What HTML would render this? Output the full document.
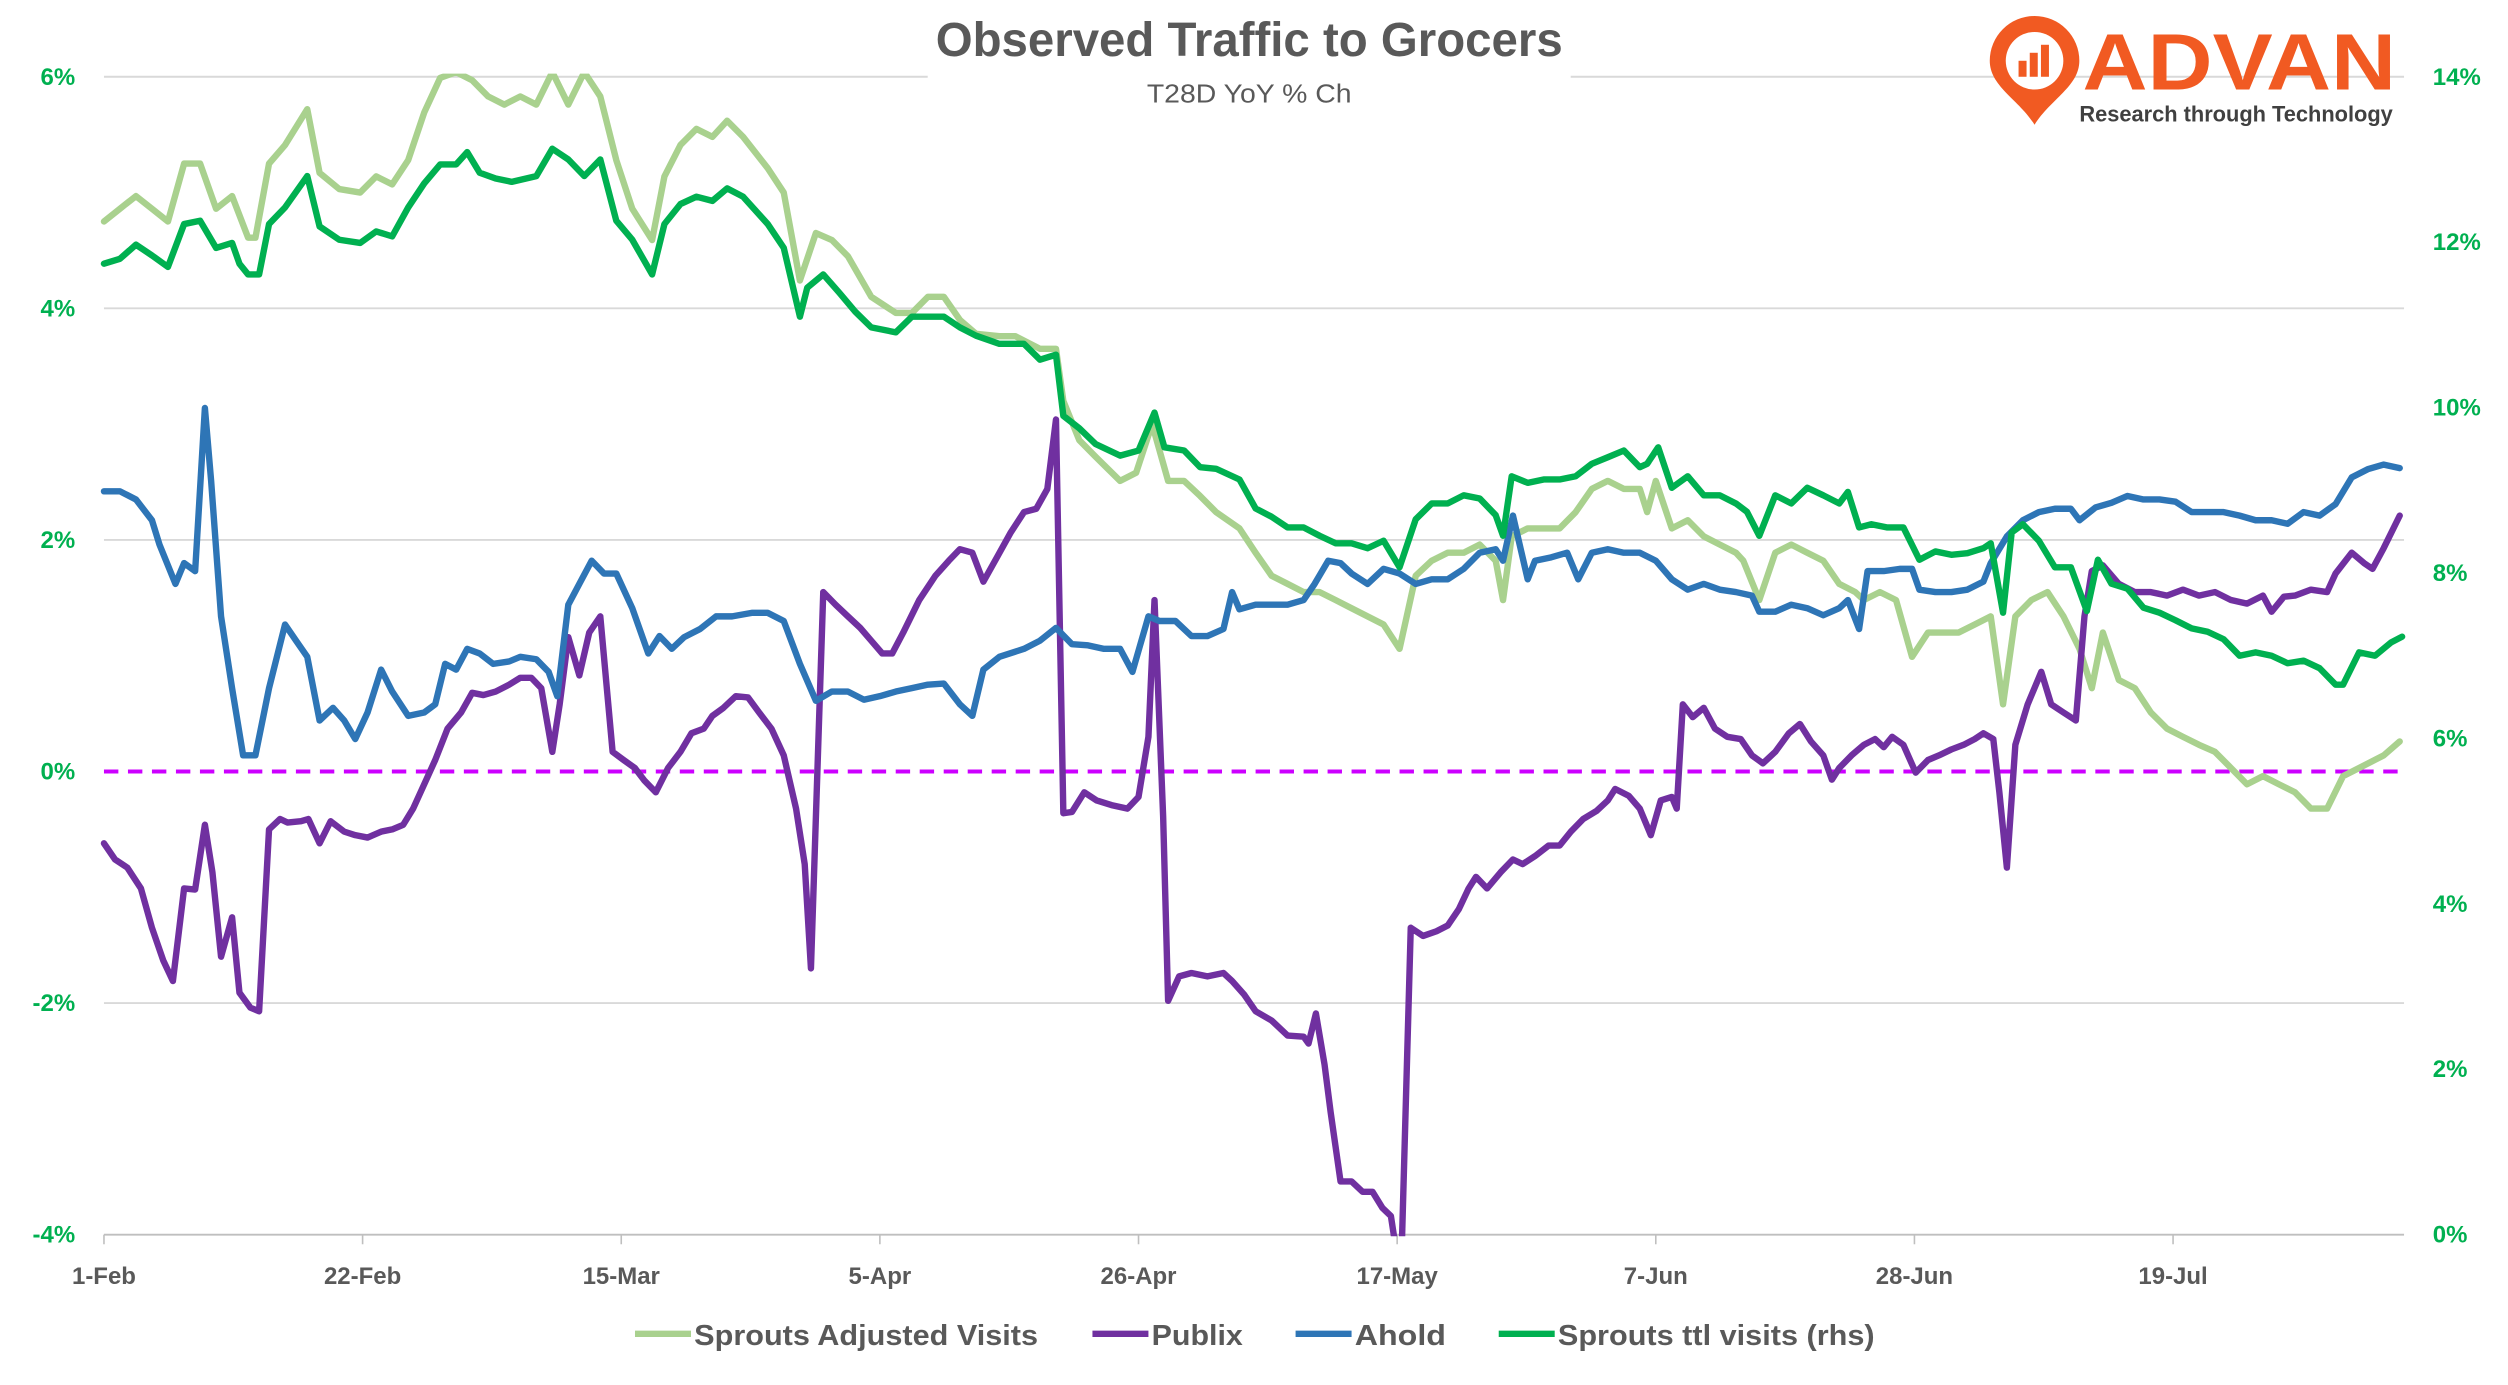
<!DOCTYPE html>
<html><head><meta charset="utf-8"><title>Observed Traffic to Grocers</title>
<style>html,body{margin:0;padding:0;background:#fff;}svg{display:block;font-family:"Liberation Sans",Arial,sans-serif;}</style>
</head><body>
<svg id="chart" width="2508" height="1385" viewBox="0 0 1568 866" preserveAspectRatio="none" xmlns="http://www.w3.org/2000/svg">
<defs><clipPath id="plotClip"><rect x="60" y="46" width="1450" height="727"/></clipPath></defs>
<rect x="0" y="0" width="1568" height="866" fill="#fff"/>
<g id="grid"></g>
<g id="axes"></g>
<g id="series" clip-path="url(#plotClip)"></g>
<rect x="580" y="8" width="402" height="66" fill="#fff"/>
<text x="781" y="35" text-anchor="middle" font-size="30" font-weight="bold" fill="#595959" textLength="392" lengthAdjust="spacingAndGlyphs">Observed Traffic to Grocers</text>
<text x="781" y="64" text-anchor="middle" font-size="16" fill="#595959" textLength="128" lengthAdjust="spacingAndGlyphs">T28D YoY % Ch</text>
<g>
<path d="M1272,78 C1262,62 1244,54 1244,38 A28,28 0 0 1 1300,38 C1300,54 1282,62 1272,78 Z" fill="#F15A22"/>
<circle cx="1272" cy="38" r="18" fill="#fff"/>
<rect x="1262" y="38" width="5" height="10" fill="#F15A22"/>
<rect x="1269" y="33" width="5" height="15" fill="#F15A22"/>
<rect x="1276" y="28" width="5" height="20" fill="#F15A22"/>
<text x="1400" y="56" text-anchor="middle" font-size="50" font-weight="bold" fill="#F15A22" textLength="196" lengthAdjust="spacingAndGlyphs">ADVAN</text>
<text x="1398" y="76" text-anchor="middle" font-size="14" font-weight="bold" fill="#404040" textLength="196" lengthAdjust="spacingAndGlyphs">Research through Technology</text>
</g>
<g id="legend"></g>
</svg>
<script>
const leftTicks=[6,4,2,0,-2,-4];
const rightTicks=[14,12,10,8,6,4,2,0];
const xTickDays=[0,21,42,63,84,105,126,147,168];
const xTickLabels=["1-Feb","22-Feb","15-Mar","5-Apr","26-Apr","17-May","7-Jun","28-Jun","19-Jul"];
const sproutsAdj=[[0,4.75],[1.3,4.86],[2.6,4.97],[3.9,4.86],[5.2,4.75],[6.5,5.25],[7.8,5.25],[9.1,4.86],[10.4,4.97],[11.7,4.61],[12.3,4.61],[13.4,5.25],[14.7,5.41],[16.5,5.72],[17.5,5.17],[19.1,5.03],[20.8,5.00],[22.1,5.14],[23.4,5.07],[24.7,5.28],[26,5.69],[27.3,5.99],[28.6,6.04],[29.9,5.97],[31.2,5.83],[32.5,5.76],[33.8,5.83],[35.1,5.76],[36.4,6.04],[37.7,5.76],[39,6.04],[40.3,5.83],[41.6,5.28],[42.9,4.86],[44.5,4.59],[45.5,5.14],[46.8,5.41],[48.1,5.55],[49.4,5.48],[50.6,5.62],[51.9,5.48],[53.9,5.21],[55.2,5.00],[56.5,4.24],[57.8,4.65],[59.1,4.59],[60.4,4.45],[62.3,4.10],[64.3,3.96],[65.6,3.96],[66.9,4.10],[68.2,4.10],[69.5,3.90],[70.8,3.78],[72.7,3.76],[74,3.76],[76,3.65],[77.3,3.65],[77.9,3.20],[79.2,2.86],[80.5,2.72],[82.5,2.51],[83.8,2.58],[85.1,3.00],[86.4,2.51],[87.7,2.51],[89,2.38],[90.3,2.24],[92.2,2.10],[93.5,1.89],[94.8,1.69],[96.1,1.62],[97.4,1.55],[98.7,1.55],[100,1.48],[101.3,1.41],[102.6,1.34],[103.9,1.27],[105.2,1.06],[106.5,1.69],[107.8,1.82],[109.1,1.89],[110.4,1.89],[111.7,1.96],[113,1.82],[113.6,1.48],[114.3,2.03],[115.6,2.10],[116.9,2.10],[118.2,2.10],[119.5,2.24],[120.8,2.44],[122.1,2.51],[123.4,2.44],[124.7,2.44],[125.3,2.24],[126,2.51],[127.3,2.10],[128.6,2.17],[129.9,2.03],[131.2,1.96],[132.5,1.89],[133.1,1.82],[134.4,1.48],[135.7,1.89],[137,1.96],[138.3,1.89],[139.6,1.82],[140.9,1.62],[142.2,1.55],[142.9,1.48],[144.2,1.55],[145.5,1.48],[146.8,0.99],[148.1,1.20],[149.4,1.20],[150.6,1.20],[151.9,1.27],[153.2,1.34],[154.2,0.58],[155.2,1.34],[156.5,1.48],[157.8,1.55],[159.1,1.34],[160.4,1.06],[161.4,0.72],[162.3,1.20],[163.6,0.79],[164.9,0.72],[166.2,0.51],[167.5,0.37],[168.8,0.30],[170.1,0.23],[171.4,0.17],[172.7,0.03],[174,-0.11],[175.3,-0.04],[176.6,-0.11],[177.9,-0.18],[179.2,-0.32],[180.5,-0.32],[181.8,-0.04],[183.1,0.03],[185.1,0.14],[186.4,0.26]];
const publix=[[0,-0.62],[0.9,-0.76],[1.9,-0.83],[3,-1.01],[3.9,-1.35],[4.8,-1.63],[5.6,-1.81],[6.5,-1.01],[7.4,-1.02],[8.2,-0.46],[8.8,-0.87],[9.5,-1.60],[10.4,-1.26],[11,-1.91],[11.9,-2.04],[12.6,-2.07],[13.4,-0.50],[14.3,-0.41],[14.9,-0.44],[16,-0.43],[16.6,-0.41],[17.5,-0.62],[18.4,-0.43],[19.5,-0.52],[20.4,-0.55],[21.4,-0.57],[22.5,-0.52],[23.4,-0.50],[24.3,-0.46],[25.1,-0.32],[26,-0.11],[26.9,0.10],[27.9,0.37],[29,0.51],[29.9,0.68],[30.8,0.66],[31.8,0.69],[32.9,0.75],[33.8,0.81],[34.7,0.81],[35.5,0.72],[36.4,0.17],[37,0.58],[37.7,1.16],[38.6,0.83],[39.4,1.20],[40.3,1.34],[41.3,0.17],[42.2,0.10],[43.1,0.03],[43.9,-0.08],[44.8,-0.18],[45.8,0.03],[46.8,0.17],[47.7,0.33],[48.7,0.37],[49.4,0.48],[50.3,0.55],[51.3,0.65],[52.3,0.64],[53.2,0.51],[54.2,0.37],[55.2,0.14],[56.2,-0.32],[56.9,-0.80],[57.4,-1.70],[58.4,1.55],[59.4,1.44],[60.4,1.34],[61.4,1.24],[62.3,1.13],[63.2,1.02],[64,1.02],[64.9,1.20],[66.2,1.48],[67.5,1.69],[68.6,1.82],[69.5,1.92],[70.5,1.89],[71.4,1.64],[72.5,1.85],[73.6,2.06],[74.7,2.24],[75.7,2.27],[76.6,2.44],[77.3,3.04],[77.9,-0.36],[78.6,-0.35],[79.6,-0.18],[80.6,-0.25],[81.8,-0.29],[83.1,-0.32],[84,-0.22],[84.8,0.30],[85.3,1.48],[86,-0.39],[86.4,-1.98],[87.3,-1.77],[88.3,-1.74],[89.6,-1.77],[90.9,-1.74],[91.6,-1.81],[92.6,-1.93],[93.5,-2.07],[94.8,-2.15],[96.1,-2.28],[97.4,-2.29],[97.8,-2.35],[98.4,-2.09],[99.1,-2.53],[99.6,-2.94],[100.4,-3.54],[101.3,-3.54],[102.2,-3.63],[103,-3.63],[103.8,-3.77],[104.5,-3.84],[105.3,-4.4],[106.1,-1.35],[107.1,-1.42],[108.2,-1.38],[109.1,-1.33],[110,-1.19],[110.8,-1.01],[111.4,-0.91],[112.3,-1.01],[113.4,-0.87],[114.4,-0.76],[115.2,-0.80],[116.2,-0.73],[117.3,-0.64],[118.2,-0.64],[119.1,-0.52],[120.1,-0.41],[121.2,-0.34],[122.1,-0.25],[122.7,-0.15],[123.8,-0.21],[124.7,-0.32],[125.6,-0.55],[126.4,-0.25],[127.3,-0.22],[127.7,-0.32],[128.2,0.58],[129,0.47],[129.9,0.55],[130.8,0.37],[131.8,0.30],[132.9,0.28],[133.8,0.14],[134.7,0.07],[135.7,0.17],[136.8,0.33],[137.7,0.41],[138.6,0.26],[139.6,0.14],[140.3,-0.07],[140.9,0.03],[141.9,0.14],[142.9,0.23],[143.8,0.28],[144.5,0.21],[145.2,0.30],[146.1,0.23],[147.1,-0.01],[148.1,0.10],[149,0.14],[150,0.19],[151,0.23],[151.9,0.28],[152.6,0.33],[153.4,0.28],[153.9,-0.18],[154.5,-0.83],[155.2,0.23],[156.2,0.58],[157.3,0.86],[158.1,0.58],[159.1,0.51],[160.1,0.44],[160.8,1.34],[161.4,1.73],[162.3,1.78],[163.6,1.62],[164.9,1.55],[166.2,1.55],[167.5,1.52],[168.8,1.57],[170.1,1.52],[171.4,1.55],[172.7,1.48],[174,1.45],[175.3,1.52],[176,1.38],[177,1.51],[177.9,1.52],[179.2,1.57],[180.5,1.55],[181.2,1.71],[182.5,1.89],[183.5,1.80],[184.2,1.75],[185.1,1.93],[186.4,2.21]];
const ahold=[[0,2.42],[1.3,2.42],[2.6,2.35],[3.9,2.17],[4.5,1.96],[5.8,1.62],[6.5,1.80],[7.4,1.73],[8.2,3.14],[8.7,2.51],[9.5,1.34],[10.4,0.72],[11.3,0.14],[12.3,0.14],[13.4,0.72],[14.7,1.27],[15.6,1.13],[16.5,0.99],[17.5,0.44],[18.6,0.55],[19.5,0.44],[20.4,0.28],[21.4,0.51],[22.5,0.88],[23.4,0.69],[24.7,0.48],[26,0.51],[26.9,0.58],[27.7,0.93],[28.6,0.88],[29.5,1.06],[30.5,1.02],[31.6,0.93],[32.9,0.95],[33.8,0.99],[35.1,0.97],[36.1,0.86],[36.8,0.65],[37.7,1.44],[38.6,1.62],[39.6,1.82],[40.6,1.71],[41.6,1.71],[42.9,1.41],[44.2,1.02],[45.1,1.17],[46.1,1.06],[47.1,1.16],[48.4,1.23],[49.7,1.34],[51,1.34],[52.6,1.37],[53.9,1.37],[55.2,1.30],[56.5,0.93],[57.8,0.61],[59.1,0.69],[60.4,0.69],[61.7,0.62],[63,0.65],[64.3,0.69],[65.6,0.72],[66.9,0.75],[68.2,0.76],[69.5,0.58],[70.5,0.48],[71.4,0.88],[72.7,0.99],[74.7,1.06],[76,1.13],[77.3,1.24],[78.6,1.10],[79.9,1.09],[81.2,1.06],[82.5,1.06],[83.5,0.86],[84.8,1.34],[85.7,1.30],[87,1.30],[88.3,1.17],[89.6,1.17],[90.9,1.23],[91.6,1.55],[92.2,1.40],[93.5,1.44],[94.8,1.44],[96.1,1.44],[97.4,1.48],[98.3,1.62],[99.4,1.82],[100.4,1.80],[101.3,1.71],[102.6,1.62],[103.9,1.75],[105.2,1.71],[106.5,1.62],[107.8,1.66],[109.1,1.66],[110.4,1.75],[111.7,1.89],[113,1.92],[113.6,1.82],[114.4,2.21],[115.6,1.66],[116.2,1.82],[117.5,1.85],[118.8,1.89],[119.7,1.66],[120.8,1.89],[122.1,1.92],[123.4,1.89],[124.7,1.89],[126,1.82],[127.3,1.66],[128.6,1.57],[129.9,1.62],[131.2,1.57],[132.5,1.55],[133.8,1.52],[134.4,1.38],[135.7,1.38],[137,1.44],[138.3,1.41],[139.6,1.35],[140.9,1.41],[141.6,1.48],[142.5,1.23],[143.2,1.73],[144.5,1.73],[145.8,1.75],[146.8,1.75],[147.4,1.57],[148.7,1.55],[150,1.55],[151.3,1.57],[152.6,1.64],[153.2,1.80],[154.5,2.03],[155.8,2.17],[157.1,2.24],[158.4,2.27],[159.7,2.27],[160.4,2.17],[161.7,2.28],[163,2.32],[164.3,2.38],[165.6,2.35],[166.9,2.35],[168.2,2.33],[169.5,2.24],[170.8,2.24],[172.1,2.24],[173.4,2.21],[174.7,2.17],[176,2.17],[177.3,2.14],[178.6,2.24],[179.9,2.21],[181.2,2.31],[182.5,2.54],[183.8,2.61],[185.1,2.65],[186.4,2.62]];
const sproutsTtlRhs=[[0,11.74],[1.3,11.80],[2.6,11.97],[3.9,11.84],[5.2,11.70],[6.5,12.22],[7.8,12.26],[9.1,11.93],[10.4,11.99],[11,11.74],[11.7,11.61],[12.6,11.61],[13.4,12.22],[14.7,12.42],[16.5,12.80],[17.5,12.19],[19.1,12.03],[20.8,11.99],[22.1,12.13],[23.4,12.07],[24.7,12.42],[26,12.71],[27.3,12.94],[28.6,12.94],[29.5,13.09],[30.5,12.84],[31.8,12.77],[33.1,12.73],[35.1,12.80],[36.4,13.13],[37.7,13.00],[39,12.80],[40.3,13.00],[41.6,12.26],[42.9,12.03],[44.5,11.61],[45.5,12.22],[46.8,12.46],[48.1,12.55],[49.4,12.50],[50.6,12.65],[51.9,12.55],[53.9,12.22],[55.2,11.93],[56.5,11.10],[57.1,11.45],[58.4,11.61],[59.7,11.39],[61,11.16],[62.3,10.97],[64.3,10.91],[65.6,11.10],[66.9,11.10],[68.2,11.10],[69.5,10.97],[70.8,10.87],[72.7,10.77],[74.7,10.77],[76,10.58],[77.3,10.64],[77.9,9.90],[79.2,9.75],[80.5,9.56],[82.5,9.42],[84,9.48],[85.3,9.94],[86.1,9.52],[87.7,9.48],[89,9.28],[90.3,9.26],[92.2,9.13],[93.5,8.78],[94.8,8.68],[96.1,8.55],[97.4,8.55],[98.7,8.45],[100,8.36],[101.3,8.36],[102.6,8.30],[103.9,8.39],[105.2,8.07],[106.5,8.65],[107.8,8.84],[109.1,8.84],[110.4,8.94],[111.7,8.90],[113,8.70],[113.6,8.45],[114.3,9.17],[115.6,9.09],[116.9,9.13],[118.2,9.13],[119.5,9.17],[120.8,9.32],[122.1,9.40],[123.4,9.48],[124.7,9.28],[125.3,9.32],[126.2,9.52],[127.3,9.03],[128.6,9.17],[129.9,8.94],[131.2,8.94],[132.5,8.84],[133.4,8.74],[134.4,8.45],[135.7,8.94],[137,8.84],[138.3,9.03],[139.6,8.94],[140.9,8.84],[141.6,8.98],[142.5,8.55],[143.5,8.59],[144.8,8.55],[146.1,8.55],[147.4,8.16],[148.7,8.26],[150,8.22],[151.3,8.24],[152.6,8.30],[153.2,8.36],[154.2,7.52],[154.9,8.49],[155.8,8.59],[157.1,8.39],[158.4,8.07],[159.7,8.07],[161,7.54],[161.9,8.16],[163,7.87],[164.3,7.81],[165.6,7.58],[166.9,7.52],[168.2,7.43],[169.5,7.33],[170.8,7.29],[172.1,7.20],[173.4,7.00],[174.7,7.04],[176,7.00],[177.3,6.91],[178.6,6.94],[179.9,6.85],[181.2,6.65],[181.8,6.65],[183.1,7.04],[184.4,7.00],[185.7,7.16],[186.6,7.23]];
const seriesNames=["Sprouts Adjusted Visits","Publix","Ahold","Sprouts ttl visits (rhs)"];
const seriesColors=["#A9D18E","#7030A0","#2E75B6","#00B050"];

const NS="http://www.w3.org/2000/svg";
const X0=65,X1=1503,Y0=48,Y1=772;
const xScale=d=>X0+d*7.7;
const yLeft=v=>Y0+(6-v)*(Y1-Y0)/10;
const yRight=v=>Y0+(14-v)*(Y1-Y0)/14;
function mk(tag,attrs,parent,text){const e=document.createElementNS(NS,tag);for(const k in attrs)e.setAttribute(k,attrs[k]);if(text!==undefined)e.textContent=text;parent.appendChild(e);return e;}
const grid=document.getElementById('grid'),axes=document.getElementById('axes'),ser=document.getElementById('series'),leg=document.getElementById('legend');
leftTicks.forEach(v=>{
  if(v!==0){const l=mk('line',{x1:X0,x2:X1,y1:yLeft(v),y2:yLeft(v),stroke:v===-4?'#bfbfbf':'#d9d9d9','stroke-width':1.2},grid);
  
  }
  const t=mk('text',{x:47,y:yLeft(v)+5,'text-anchor':'end','font-size':15,'font-weight':'bold',fill:'#00B050'},axes,v+'%');
  
  
});
rightTicks.forEach(v=>{
  const t=mk('text',{x:1521,y:yRight(v)+5,'font-size':15,'font-weight':'bold',fill:'#00B050'},axes,v+'%');
  
  
});
xTickDays.forEach((d,i)=>{
  const tk=mk('line',{x1:xScale(d),x2:xScale(d),y1:Y1,y2:Y1+6,stroke:'#bfbfbf','stroke-width':1},axes);
  
  
  const t=mk('text',{x:xScale(d),y:803,'text-anchor':'middle','font-size':15,'font-weight':'bold',fill:'#595959'},axes,xTickLabels[i]);
  
  
});
const zl=mk('line',{x1:X0,x2:X1,y1:yLeft(0),y2:yLeft(0),stroke:'#CC00FF','stroke-width':2.5,'stroke-dasharray':'9,6'},grid);


function drawSeries(data,yf,color,name){
  const pts=data.map(p=>xScale(p[0]).toFixed(1)+','+yf(p[1]).toFixed(1)).join(' ');
  const pl=mk('polyline',{points:pts,fill:'none',stroke:color,'stroke-width':4,'stroke-linejoin':'round','stroke-linecap':'round'},ser);
  
  
}
drawSeries(sproutsAdj,yLeft,seriesColors[0],'sprouts-adjusted-line');
drawSeries(publix,yLeft,seriesColors[1],'publix-line');
drawSeries(ahold,yLeft,seriesColors[2],'ahold-line');
drawSeries(sproutsTtlRhs,yRight,seriesColors[3],'sprouts-ttl-line');
const legX=[397,683,810,937],legW=[215,57,57,198];
seriesNames.forEach((n,i)=>{
  const g=mk('g',{},leg);
  
  
  mk('line',{x1:legX[i],x2:legX[i]+35,y1:834,y2:834,stroke:seriesColors[i],'stroke-width':4},g);
  mk('text',{x:legX[i]+37,y:841,'font-size':18,'font-weight':'bold',fill:'#595959',textLength:legW[i],lengthAdjust:'spacingAndGlyphs'},g,n);
});
</script>
</body></html>
